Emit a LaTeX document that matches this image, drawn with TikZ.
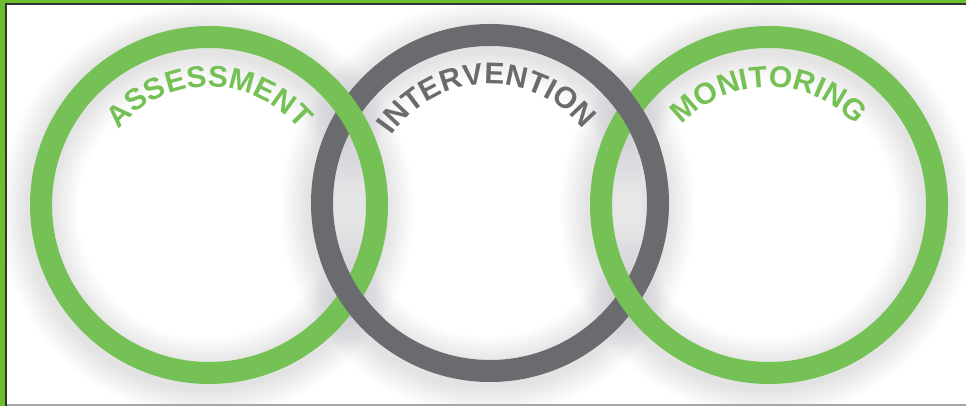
\documentclass[tikz,border=0pt]{standalone}
\usepackage{fontspec}
\setmainfont{Liberation Sans}
\usetikzlibrary{decorations.text}
\definecolor{ringgreen}{HTML}{76C156}
\definecolor{ringgray}{HTML}{6A6B6F}
\definecolor{framegreen}{HTML}{6DBE2D}
\definecolor{framedark}{HTML}{333333}
\definecolor{shadowgray}{HTML}{B8B8C2}
\newcommand\ringfont{\fontsize{30}{30}\selectfont\bfseries}
\begin{document}
\begin{tikzpicture}[x=1pt,y=1pt,
  ringline/.style={line width=22pt},
  greenring/.style={ringline, draw=ringgreen},
  grayring/.style={ringline, draw=ringgray},
  ringshadow/.style={draw=shadowgray, opacity=0.028}
]
\useasboundingbox (0,0) rectangle (966,406);
\fill[white] (0,0) rectangle (966,406);
\coordinate (L) at (209,201);
\coordinate (M) at (490,203);
\coordinate (R) at (769,201);
% soft shadows around the rings
\foreach \c in {L,M,R}{
  \foreach \i in {1,...,14}{
    \draw[ringshadow, line width={22+4*\i}] ([shift={(-2,-5)}]\c) circle[radius=168];
  }
}
% rings (interlocked)
\draw[grayring] (M) circle[radius=168];
\draw[greenring] (L) circle[radius=168];
\draw[greenring] (R) circle[radius=168];
\draw[grayring] ([shift={(198:168)}]M) arc[start angle=198, end angle=228, radius=168];
\draw[grayring] ([shift={(18:168)}]M) arc[start angle=18, end angle=48, radius=168];
% labels
\path[decorate, decoration={text along path, text align=center, text color=ringgreen,
  text={|\ringfont|ASSESSMENT}}]
  ([shift={(175:118)}]L) arc[start angle=175, end angle=5, radius=118];
\path[decorate, decoration={text along path, text align=center, text color=ringgray,
  text={|\ringfont|INTERVENTION}}]
  ([shift={(177:119)}]M) arc[start angle=177, end angle=7, radius=119];
\path[decorate, decoration={text along path, text align=center, text color=ringgreen,
  text={|\ringfont|MONITORING}}]
  ([shift={(175:118)}]R) arc[start angle=175, end angle=5, radius=118];
% frame
\fill[framegreen] (0,0) rectangle (5.5,406);
\fill[framegreen] (0,402.6) rectangle (966,406);
\draw[framedark, line width=1.5pt] (6.2,0) -- (6.2,401.9) -- (966,401.9);
\fill[black!35] (6.9,0) rectangle (966,2);
\end{tikzpicture}
\end{document}
